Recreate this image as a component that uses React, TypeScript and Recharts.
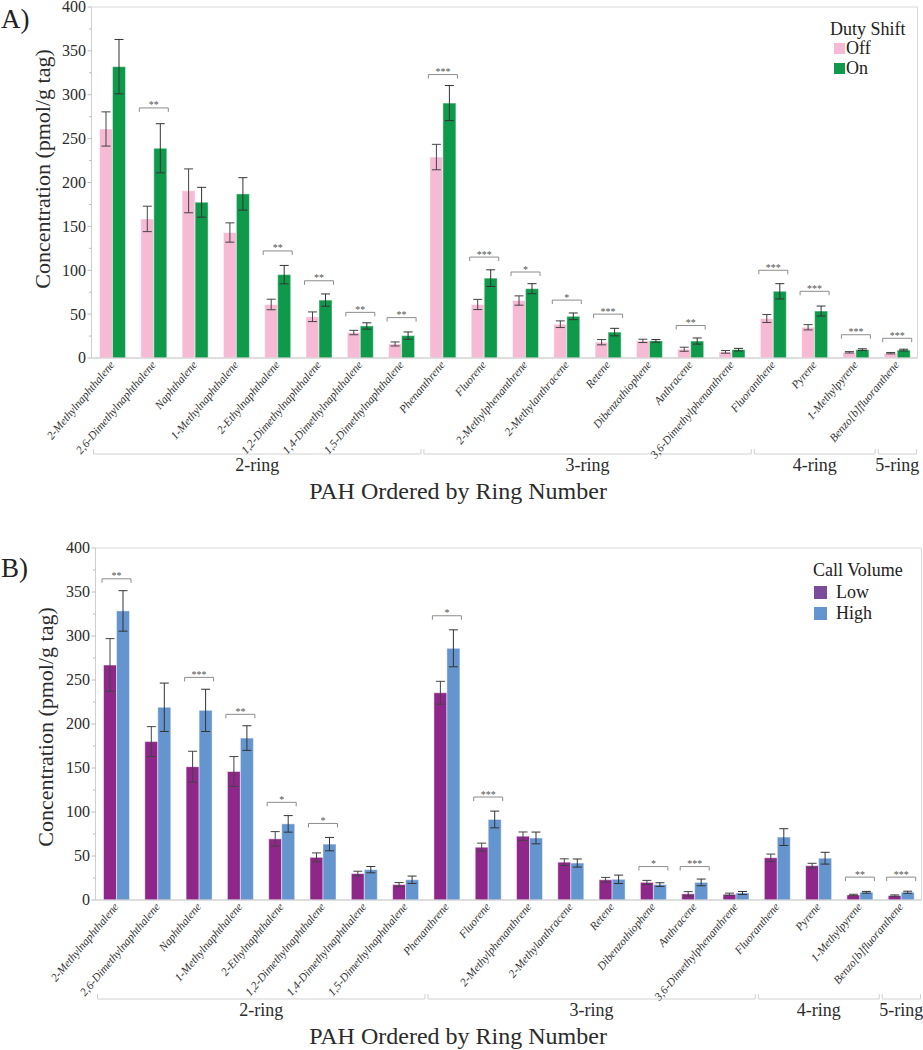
import React from 'react';
import { BarChart, Bar, XAxis, YAxis, ErrorBar, Legend, ReferenceArea } from 'recharts';

const SERIF = "'Liberation Serif', 'Times New Roman', serif";

const PAH = [
  '2-Methylnaphthalene',
  '2,6-Dimethylnaphthalene',
  'Naphthalene',
  '1-Methylnaphthalene',
  '2-Ethylnaphthalene',
  '1,2-Dimethylnaphthalene',
  '1,4-Dimethylnaphthalene',
  '1,5-Dimethylnaphthalene',
  'Phenanthrene',
  'Fluorene',
  '2-Methylphenanthrene',
  '2-Methylanthracene',
  'Retene',
  'Dibenzothiophene',
  'Anthracene',
  '3,6-Dimethylphenanthrene',
  'Fluoranthene',
  'Pyrene',
  '1-Methylpyrene',
  'Benzo[b]fluoranthene',
];

const RING_LABELS = ['2-ring', '3-ring', '4-ring', '5-ring'];
const RING_SIZES = [8, 8, 3, 1];

const Y_TICKS = [0, 25, 50, 75, 100, 125, 150, 175, 200, 225, 250, 275, 300, 325, 350, 375, 400];

// A) duty shift
const DUTY_NAMES = ['Off', 'On'];
const DUTY_OFF = [261, 158.5, 190.5, 143, 61, 47, 29, 16, 229, 61, 65.5, 38.5, 18, 19.5, 10, 7, 45, 35, 6.5, 5.5];
const DUTY_OFF_ERR = [19.5, 14.5, 25, 11, 6, 5.5, 2.5, 2.3, 14.5, 5.8, 5.3, 3.8, 3, 1.9, 2.3, 1.5, 4.5, 3, 0.8, 0.8];
const DUTY_ON = [332, 239, 177.5, 187, 95, 66, 36.5, 25.5, 290.5, 91, 79, 47.5, 29.5, 19.5, 19.3, 9.5, 76, 53.5, 9.5, 9];
const DUTY_ON_ERR = [31, 28, 17, 18.5, 10.5, 7, 3.6, 4.2, 20, 9.5, 5.7, 3.8, 4.3, 1.5, 3.5, 1.5, 8.7, 5.7, 1, 1];
const DUTY_SIG = ['', '**', '', '', '**', '**', '**', '**', '***', '***', '*', '*', '***', '', '**', '', '***', '***', '***', '***'];
const DUTY_SIG_AT = [null, 285, null, null, 122, 88, 52, 46, 323, 115, 98, 66, 50, null, 37, null, 100, 76, 26.5, 22.5];

// B) call volume
const CALL_NAMES = ['Low', 'High'];
const CALL_LOW = [267, 180, 151.5, 146, 69.5, 48.5, 30, 17.5, 235.5, 60, 72.5, 43, 23, 20, 7, 6.5, 48, 39, 5.7, 5];
const CALL_LOW_ERR = [30, 17, 17.5, 17, 8.2, 5, 2.7, 2.3, 13, 4.6, 4.8, 3.8, 2.7, 2.3, 2.5, 1.3, 4.2, 2.7, 0.8, 0.8];
const CALL_HIGH = [328.5, 219, 215.5, 184, 86.5, 63.5, 34.5, 23, 286, 91.5, 70.5, 42, 23.5, 17.5, 20, 8, 71.5, 47.5, 8.8, 8.8];
const CALL_HIGH_ERR = [23, 27.5, 24, 14, 9.4, 7.6, 3.6, 4.2, 21, 9.5, 6.7, 4.6, 4.8, 2.1, 3.8, 1.7, 9.5, 6.7, 1, 1.2];
const CALL_SIG = ['**', '', '***', '**', '*', '*', '', '', '*', '***', '', '', '', '*', '***', '', '', '', '**', '***'];
const CALL_SIG_AT = [365, null, 253, 211, 111, 87, null, null, 323, 117, null, null, null, 38, 38, null, null, null, 26, 26];

const buildRows = (a, aErr, b, bErr, sig, sigAt) =>
  PAH.map((name, i) => ({
    name,
    a: a[i],
    aErr: aErr[i],
    b: b[i],
    bErr: bErr[i],
    sig: sig[i],
    sigAt: sigAt[i],
  }));

const dutyRows = buildRows(DUTY_OFF, DUTY_OFF_ERR, DUTY_ON, DUTY_ON_ERR, DUTY_SIG, DUTY_SIG_AT);
const callRows = buildRows(CALL_LOW, CALL_LOW_ERR, CALL_HIGH, CALL_HIGH_ERR, CALL_SIG, CALL_SIG_AT);

function ValueTick({ x, y, payload }: any) {
  const major = payload.value % 50 === 0;
  return (
    <g>
      <line x1={x - (major ? 4 : 2.5)} x2={x} y1={y} y2={y} stroke="#bdbdbd" />
      {major && (
        <text x={x - 5.5} y={y} dy="0.34em" textAnchor="end" fontSize={16} fontFamily={SERIF} fill="#2b2b2b">
          {payload.value}
        </text>
      )}
    </g>
  );
}

function CategoryTick(props: any) {
  const { x, y, payload, bracketDy, ringDy } = props;
  const half = payload.offset || 20.65;
  const idx = props.index ?? payload.index;
  let start = 0;
  let group = -1;
  RING_SIZES.forEach((n, k) => {
    if (idx === start) group = k;
    start += n;
  });
  let bracket = null;
  if (group >= 0) {
    const left = x - half + 2;
    const right = x - half + RING_SIZES[group] * 2 * half - 1;
    const by = y + bracketDy;
    bracket = (
      <g>
        <path d={`M${left},${by - 5}V${by}H${right}V${by - 5}`} fill="none" stroke="#d2d2d2" />
        <text x={(left + right) / 2} y={y + ringDy} textAnchor="middle" fontSize={18} fontFamily={SERIF} fill="#2b2b2b">
          {RING_LABELS[group]}
        </text>
      </g>
    );
  }
  return (
    <g>
      <text
        x={0}
        y={0}
        transform={`translate(${x + 3},${y + 7}) rotate(-50)`}
        textAnchor="end"
        fontSize={11.5}
        fontStyle="italic"
        fontFamily={SERIF}
        fill="#333"
      >
        {payload.value}
      </text>
      {bracket}
    </g>
  );
}

// second bar of each pair also draws the significance bracket over the pair
const PairBar = (props: any) => {
  const { x, y, width, height, fill, stroke, payload } = props;
  let bracket = null;
  if (payload.sig && payload.b > 0) {
    const perUnit = height / payload.b;
    const by = y + height - payload.sigAt * perUnit;
    const left = x - width - 1.5;
    const right = x + width + 1.5;
    bracket = (
      <g>
        <path d={`M${left},${by + 4}V${by}H${right}V${by + 4}`} fill="none" stroke="#8c8c8c" />
        <text x={(left + right) / 2} y={by + 0.5} textAnchor="middle" fontSize={10} fontFamily={SERIF} fill="#555">
          {payload.sig}
        </text>
      </g>
    );
  }
  return (
    <g>
      <rect x={x} y={y} width={width} height={height} fill={fill} stroke={stroke} />
      {bracket}
    </g>
  );
};

function Panel(p: any) {
  const legendContent = ({ payload }: any) => {
    const items = p.names.map((n) => (payload || []).find((e) => e.value === n)).filter(Boolean);
    return (
      <div style={{ fontFamily: SERIF, color: '#222', whiteSpace: 'nowrap' }}>
        <div style={{ fontSize: 18, lineHeight: `${p.legend.titleH}px`, height: p.legend.titleH }}>{p.legendTitle}</div>
        {items.map((e, i) => (
          <div
            key={e.value}
            style={{
              display: 'flex',
              alignItems: 'center',
              height: p.legend.rowH,
              lineHeight: `${p.legend.rowH}px`,
              fontSize: 18,
              paddingLeft: p.legend.indent,
            }}
          >
            <span
              style={{
                display: 'inline-block',
                width: p.legend.swatch,
                height: p.legend.swatch,
                background: p.swatchColors[i],
                marginRight: p.legend.gap,
              }}
            />
            <span>{e.value}</span>
          </div>
        ))}
      </div>
    );
  };

  return (
    <div style={{ position: 'absolute', left: 0, top: p.top, width: 923, height: p.height }}>
      <div style={{ position: 'absolute', left: 1, top: p.tagTop, fontFamily: SERIF, fontSize: 27, color: '#222', lineHeight: 1 }}>
        {p.tag}
      </div>
      <BarChart
        width={923}
        height={p.height}
        data={p.data}
        barSize={13}
        barGap={0}
        margin={{ top: p.marginTop, right: p.marginRight, bottom: 0, left: 0 }}
      >
        <ReferenceArea x1={PAH[0]} x2={PAH[PAH.length - 1]} y1={0} y2={400} fill="none" stroke="#d9d9d9" />
        <XAxis
          dataKey="name"
          interval={0}
          height={p.xAxisHeight}
          tickSize={0}
          tickMargin={0}
          tickLine={false}
          axisLine={{ stroke: '#cfcfcf' }}
          tick={(t: any) => <CategoryTick {...t} bracketDy={p.bracketDy} ringDy={p.ringDy} />}
          label={{
            content: ({ viewBox }: any) => (
              <text x={458} y={viewBox.y + p.titleDy} textAnchor="middle" fontSize={24} fontFamily={SERIF} fill="#2b2b2b">
                PAH Ordered by Ring Number
              </text>
            ),
          }}
        />
        <YAxis
          domain={[0, 400]}
          ticks={Y_TICKS}
          interval={0}
          width={p.axisWidth}
          tickSize={0}
          tickMargin={0}
          tickLine={false}
          axisLine={{ stroke: '#cfcfcf' }}
          tick={(t: any) => <ValueTick {...t} />}
          label={{
            content: () => (
              <text
                x={0}
                y={0}
                transform={`translate(${p.yTitleX},${p.marginTop + 176 + p.yTitleShift}) rotate(-90)`}
                dy="0.35em"
                textAnchor="middle"
                fontSize={22}
                fontFamily={SERIF}
                fill="#2b2b2b"
              >
                Concentration (pmol/g tag)
              </text>
            ),
          }}
        />
        <Legend
          layout="vertical"
          align="center"
          verticalAlign="middle"
          wrapperStyle={{ left: p.legend.left, top: p.legend.top, width: 'auto', height: 'auto' }}
          content={legendContent}
        />
        <Bar dataKey="a" name={p.names[0]} fill={p.colors[0]} stroke="rgba(255,255,255,0.5)" isAnimationActive={false}>
          <ErrorBar dataKey="aErr" width={4.5} stroke="#444" strokeWidth={1} direction="y" />
        </Bar>
        <Bar
          dataKey="b"
          name={p.names[1]}
          fill={p.colors[1]}
          stroke="rgba(255,255,255,0.45)"
          isAnimationActive={false}
          shape={PairBar}
        >
          <ErrorBar dataKey="bErr" width={4.5} stroke="#333" strokeWidth={1} direction="y" />
        </Bar>
      </BarChart>
    </div>
  );
}

export default function App() {
  return (
    <div style={{ position: 'absolute', left: 0, top: 0, width: 923, height: 1050, background: '#fff', overflow: 'hidden' }}>
      <Panel
        tag="A)"
        top={0}
        tagTop={6}
        height={505}
        marginTop={7}
        marginRight={5.5}
        axisWidth={91.5}
        xAxisHeight={147}
        bracketDy={96}
        ringDy={113}
        titleDy={141}
        yTitleX={42}
        yTitleShift={-14}
        data={dutyRows}
        names={DUTY_NAMES}
        colors={['#f7bad5', '#0f9a4b']}
        swatchColors={['#f7bad5', '#0f9a4b']}
        legendTitle="Duty Shift"
        legend={{ left: 830, top: 20, titleH: 19, rowH: 19.5, indent: 4, swatch: 11, gap: 1 }}
      />
      <Panel
        tag="B)"
        top={505}
        tagTop={50}
        height={545}
        marginTop={43}
        marginRight={1.5}
        axisWidth={95.5}
        xAxisHeight={150}
        bracketDy={99}
        ringDy={116}
        titleDy={144}
        yTitleX={45}
        yTitleShift={3}
        data={callRows}
        names={CALL_NAMES}
        colors={['#8e2789', '#6595ce']}
        swatchColors={['#7b4c9a', '#6595ce']}
        legendTitle="Call Volume"
        legend={{ left: 813, top: 53, titleH: 24, rowH: 21, indent: 1, swatch: 13, gap: 9 }}
      />
    </div>
  );
}
